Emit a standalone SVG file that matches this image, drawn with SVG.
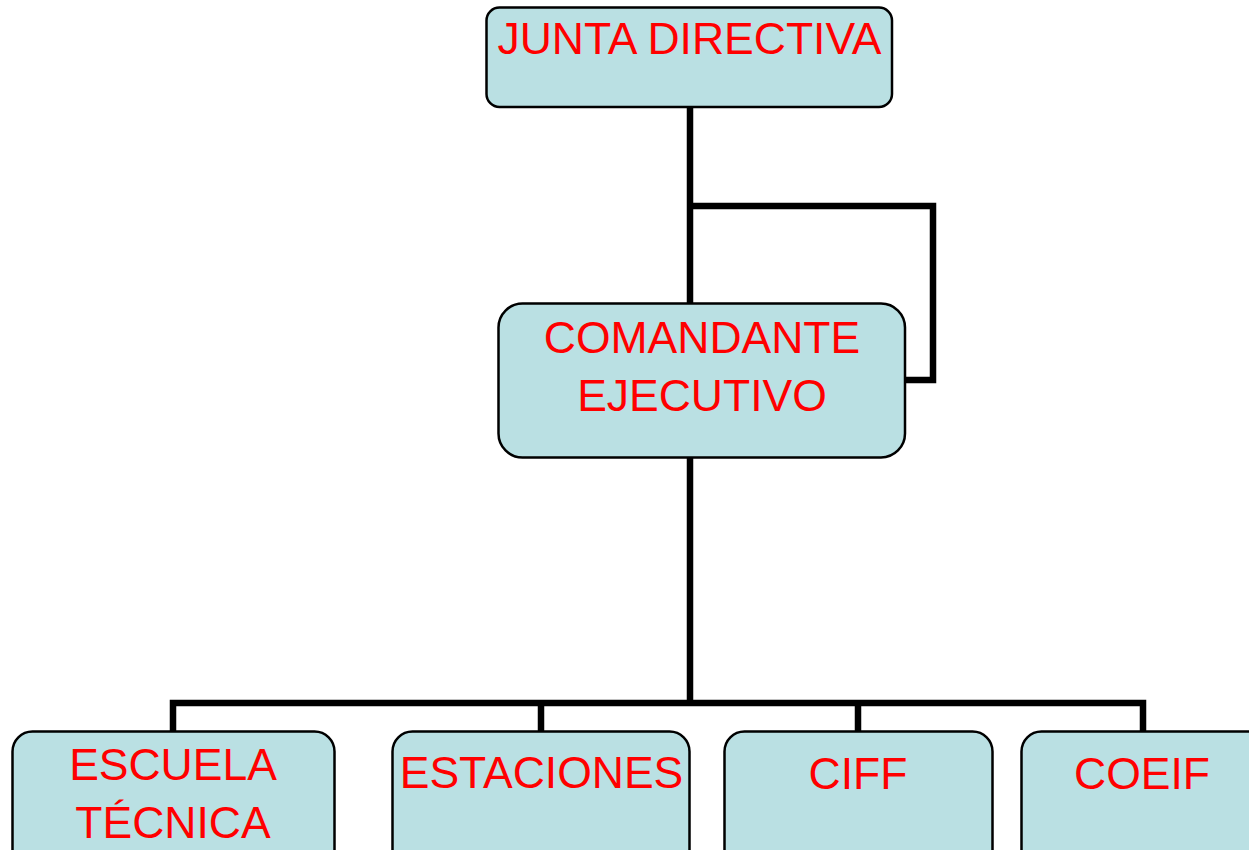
<svg xmlns="http://www.w3.org/2000/svg" width="1249" height="850" viewBox="0 0 1249 850">
<style>
.box{fill:#BAE0E3;stroke:#000;stroke-width:2.5}
.lbl{font-family:"Liberation Sans",Arial,sans-serif;font-size:44.5px;fill:#FF0000;text-anchor:middle}
.con{fill:none;stroke:#000;stroke-width:6.5;stroke-linejoin:miter;stroke-linecap:butt}
</style>
<rect width="1249" height="850" fill="#fff"/>
<g id="connectors">
<path class="con" d="M690 107 V303"/>
<path class="con" d="M690 206 H933 V380 H905"/>
<path class="con" d="M690 458 V703"/>
<path class="con" d="M173 731 V703 H1143 V731"/>
<path class="con" d="M541 703 V731"/>
<path class="con" d="M858 703 V731"/>
</g>
<g id="junta">
<rect class="box" x="486.5" y="7.5" width="405.5" height="99.5" rx="13"/>
<text class="lbl" x="689.5" y="54">JUNTA DIRECTIVA</text>
</g>
<g id="comandante">
<rect class="box" x="498.5" y="303.5" width="406.5" height="154" rx="24"/>
<text class="lbl" x="702" y="353">COMANDANTE</text>
<text class="lbl" x="702" y="411">EJECUTIVO</text>
</g>
<g id="escuela">
<rect class="box" x="12.5" y="731.5" width="322" height="150" rx="20"/>
<text class="lbl" x="173" y="780">ESCUELA</text>
<text class="lbl" x="173" y="838">TÉCNICA</text>
</g>
<g id="estaciones">
<rect class="box" x="392.5" y="731.5" width="297" height="150" rx="20"/>
<text class="lbl" x="541.5" y="788">ESTACIONES</text>
</g>
<g id="ciff">
<rect class="box" x="724.5" y="731.5" width="268" height="150" rx="20"/>
<text class="lbl" x="858" y="789">CIFF</text>
</g>
<g id="coeif">
<rect class="box" x="1021.5" y="731.5" width="260" height="150" rx="20"/>
<text class="lbl" x="1142" y="789">COEIF</text>
</g>
</svg>
